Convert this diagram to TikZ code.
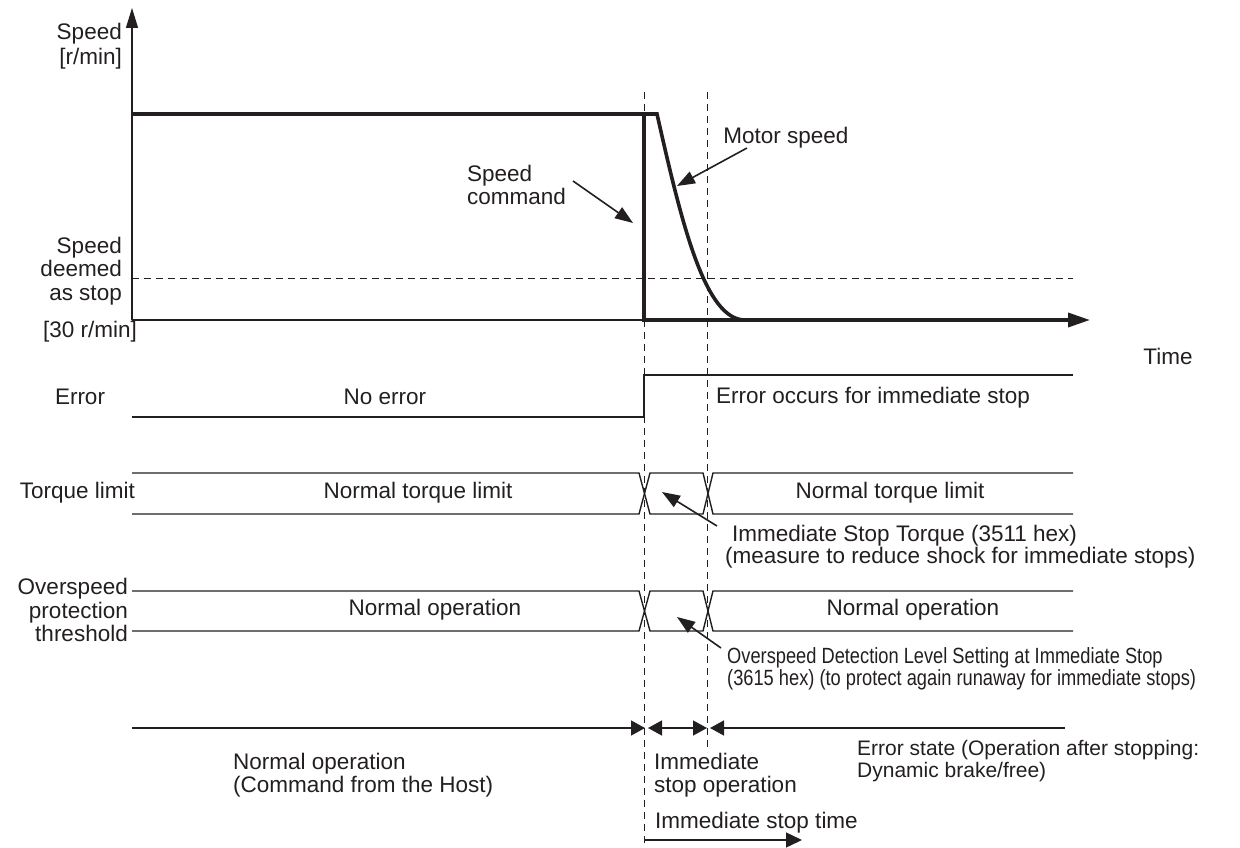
\documentclass[tikz,border=0pt]{standalone}
\usepackage{fontspec}
\setmainfont{Liberation Sans}
\newfontfamily\narrowfont[FakeStretch=0.83]{Liberation Sans}
\usetikzlibrary{arrows.meta}
\definecolor{ink}{HTML}{231F20}
\begin{document}
\begin{tikzpicture}[x=1pt,y=-1pt,
  txt/.style={font=\fontsize{22.5}{23.5}\selectfont, text=ink, inner sep=0pt},
  smalltxt/.style={font=\fontsize{21}{22}\selectfont, text=ink, inner sep=0pt},
  narrowtxt/.style={font=\narrowfont\fontsize{22}{22}\selectfont, text=ink, inner sep=0pt},
  wave/.style={line width=1.4pt, draw=ink},
  heavy/.style={line width=3.6pt, draw=ink, line join=miter},
  guide/.style={line width=1pt, draw=ink, dash pattern=on 7pt off 5pt},
  ptr/.style={line width=1.6pt, draw=ink, -{Triangle[length=18pt,width=13pt]}},
  span/.style={line width=1.4pt, draw=ink},
  stip/.tip={Triangle[length=14pt,width=15pt]}
]
\useasboundingbox (0,0) rectangle (1240,848);

% key coordinates
\coordinate (o) at (132,320);
\coordinate (ytop) at (132,8);
\coordinate (t1) at (644,114);

% guide lines
\draw[guide] (644,92) -- (644,848);
\draw[guide] (707,92) -- (707,752);
\draw[guide] (132,278) -- (1073,278);

% axes
\draw[wave, -{Triangle[length=20pt,width=12pt]}] (o) -- (ytop);
\draw[wave] (o) -- (644,320);

% speed command and motor speed
\draw[heavy] (132,114) -- (657,114) .. controls (682,225) and (705,320) .. (745,320) -- (770,320);
\draw[heavy, -{Triangle[length=22pt,width=14pt]}] (t1) -- (644,320) -- (1090,320);

% error signal
\draw[wave] (132,417) -- (644,417) -- (644,375) -- (1073,375);

% torque limit band
\draw[wave] (132,473) -- (639,473) -- (650,514) -- (703,514) -- (713,473) -- (1073,473);
\draw[wave] (132,514) -- (639,514) -- (650,473) -- (703,473) -- (713,514) -- (1073,514);

% overspeed band
\draw[wave] (132,591) -- (639,591) -- (650,631) -- (703,631) -- (713,591) -- (1073,591);
\draw[wave] (132,631) -- (639,631) -- (650,591) -- (703,591) -- (713,631) -- (1073,631);

% bottom spans
\draw[span, -stip] (132,728) -- (645,728);
\draw[span, stip-stip] (648,728) -- (707,728);
\draw[span, stip-] (710,728) -- (1065,728);
\draw[span, -{Triangle[length=16pt,width=15pt]}] (645,840) -- (802,840);

% labels
\node[txt, anchor=east, align=right, font=\fontsize{22.5}{25}\selectfont] (ylab) at (122,46) {Speed\\{[r/min]}};
\node[txt, anchor=east, align=right] (stoplab) at (122,271) {Speed\\deemed\\as stop};
\node[txt] (thirty) at (90,332) {[30 r/min]};
\node[txt, anchor=west, align=left] (cmdlab) at (467,185) {Speed\\command};
\node[txt] (motlab) at (786,138) {Motor speed};
\node[txt] (timelab) at (1168,356) {Time};
\node[txt] (errlab) at (80,397) {Error};
\node[txt] (noerr) at (385,397) {No error};
\node[txt] (errocc) at (873,398) {Error occurs for immediate stop};
\node[txt, anchor=east] (tqlab) at (135,493) {Torque limit};
\node[txt] (ntl1) at (418,493) {Normal torque limit};
\node[txt] (ntl2) at (890,493) {Normal torque limit};
\node[txt, anchor=east, align=right] (oslab) at (128,610) {Overspeed\\protection\\threshold};
\node[txt] (nop1) at (435,610) {Normal operation};
\node[txt] (nop2) at (913,610) {Normal operation};
\node[txt, anchor=west] (istq1) at (732,536) {Immediate Stop Torque (3511 hex)};
\node[txt, anchor=west] (istq2) at (725,558) {(measure to reduce shock for immediate stops)};
\node[narrowtxt, anchor=west] (odl1) at (727,658) {Overspeed Detection Level Setting at Immediate Stop};
\node[narrowtxt, anchor=west] (odl2) at (727,680) {(3615 hex) (to protect again runaway for immediate stops)};
\node[txt, anchor=west, align=left] (nopb) at (233,775) {Normal operation\\(Command from the Host)};
\node[txt, anchor=west, align=left] (isop) at (654,775) {Immediate\\stop operation};
\node[smalltxt, anchor=west, align=left] (errst) at (857,761) {Error state (Operation after stopping:\\Dynamic brake/free)};
\node[txt, anchor=west] (istime) at (655,823) {Immediate stop time};

% annotation arrows
\coordinate (cmdtip) at (633,223);
\coordinate (mottip) at (677,186);
\coordinate (tqtip) at (662,492);
\coordinate (ostip) at (677,617);
\draw[ptr] (573,181) -- (cmdtip);
\draw[ptr] (747,148) -- (mottip);
\draw[ptr] (717,526) -- (tqtip);
\draw[ptr] (721,648) -- (ostip);
\end{tikzpicture}
\end{document}
